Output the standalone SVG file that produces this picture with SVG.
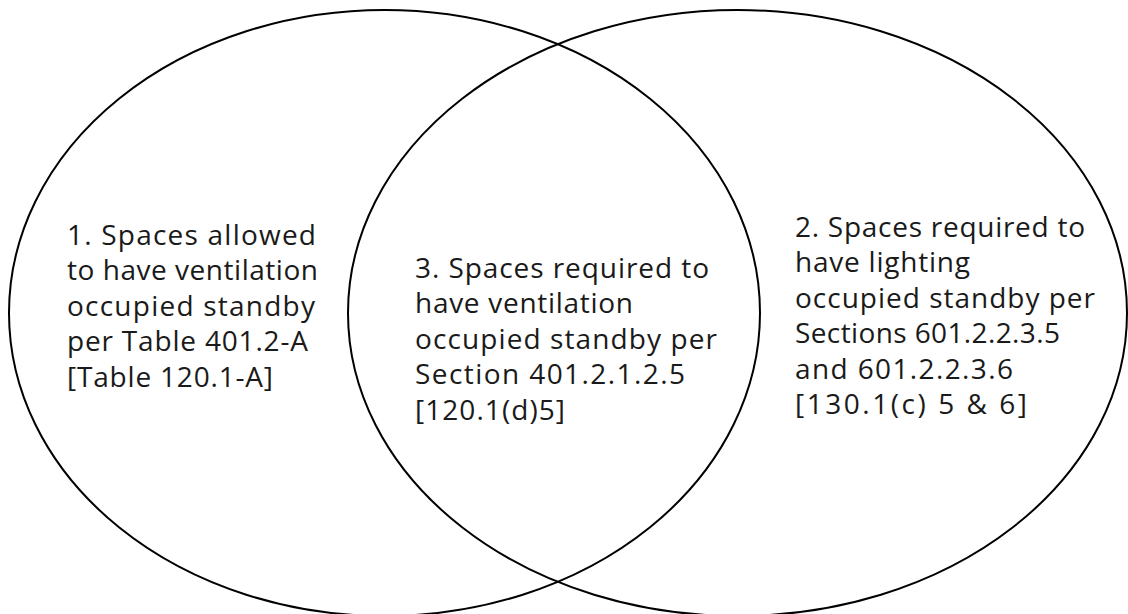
<svg xmlns="http://www.w3.org/2000/svg" width="1128" height="614" viewBox="0 0 1128 614">
<style>
.set{fill:none;stroke:#000;stroke-width:2}
.lbl{font-family:"Open Sans","Liberation Sans",sans-serif;font-size:28px;fill:#1a1a1a}
</style>
<rect width="1128" height="614" fill="#fff"/>
<g id="set1">
<ellipse class="set" cx="384.5" cy="313" rx="375.5" ry="303"/>
<text class="lbl" lengthAdjust="spacing">
<tspan x="67" y="245" textLength="249">1. Spaces allowed</tspan>
<tspan x="67" y="280.4" textLength="251">to have ventilation</tspan>
<tspan x="67" y="315.8" textLength="248">occupied standby</tspan>
<tspan x="67" y="351.2" textLength="241">per Table 401.2-A</tspan>
<tspan x="67" y="386.6" textLength="206">[Table 120.1-A]</tspan>
</text>
</g>
<g id="set2">
<ellipse class="set" cx="737.5" cy="313" rx="389.5" ry="303"/>
<text class="lbl" lengthAdjust="spacing">
<tspan x="795" y="237" textLength="290">2. Spaces required to</tspan>
<tspan x="795" y="272.4" textLength="175">have lighting</tspan>
<tspan x="795" y="307.8" textLength="300">occupied standby per</tspan>
<tspan x="795" y="343.2" textLength="265">Sections 601.2.2.3.5</tspan>
<tspan x="795" y="378.6" textLength="218">and 601.2.2.3.6</tspan>
<tspan x="795" y="414" textLength="232">[130.1(c) 5 &amp; 6]</tspan>
</text>
</g>
<g id="overlap3">
<text class="lbl" lengthAdjust="spacing">
<tspan x="415" y="278" textLength="294">3. Spaces required to</tspan>
<tspan x="415" y="313.4" textLength="218">have ventilation</tspan>
<tspan x="415" y="348.8" textLength="302">occupied standby per</tspan>
<tspan x="415" y="384.2" textLength="270">Section 401.2.1.2.5</tspan>
<tspan x="415" y="419.6" textLength="150">[120.1(d)5]</tspan>
</text>
</g>
<g id="connectors"></g>
</svg>
